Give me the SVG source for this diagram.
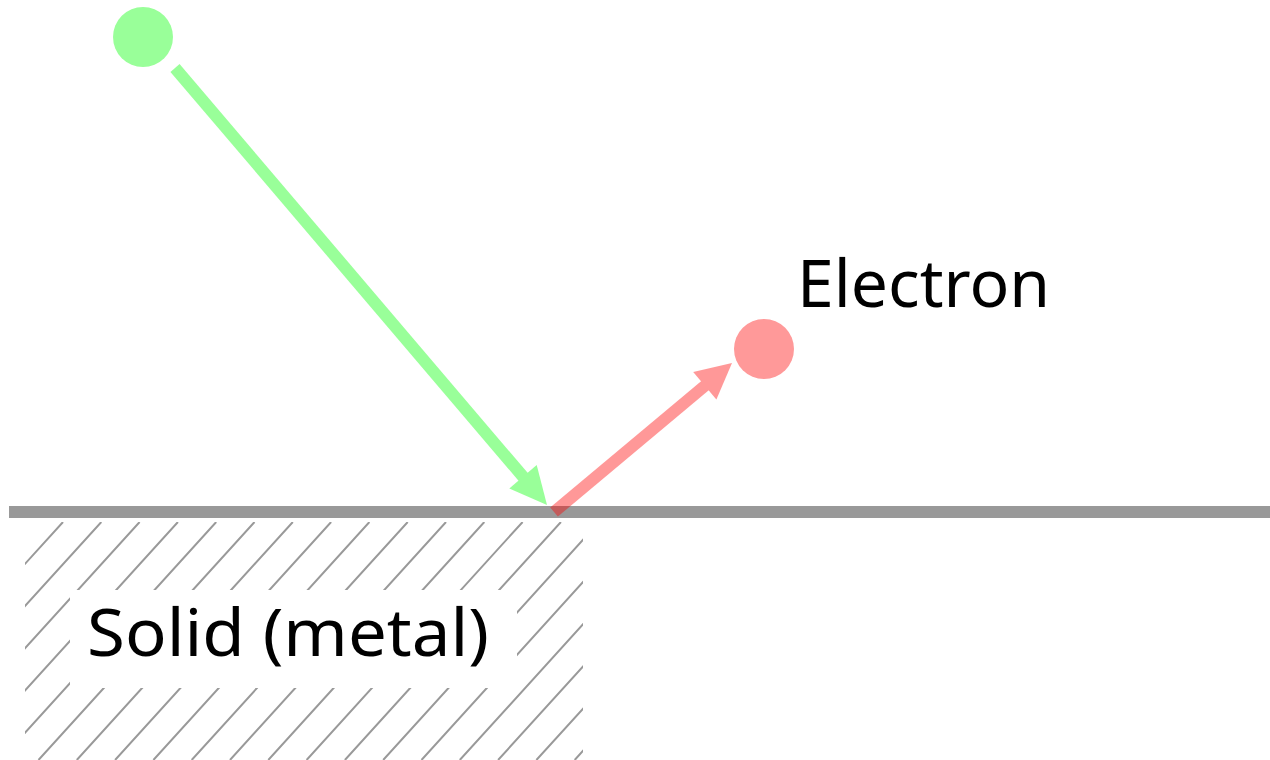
<svg xmlns="http://www.w3.org/2000/svg" width="1270" height="760" viewBox="0 0 1270 760">
  <style>
    .hatch { stroke: #999999; stroke-width: 2; }
    .label { font-family: "Noto Sans", "Open Sans", sans-serif; font-size: 66px; fill: #000000; }
  </style>
  <defs>
    <clipPath id="solidClip">
      <rect x="25" y="522" width="558" height="238"/>
    </clipPath>
  </defs>
  <rect width="1270" height="760" fill="#ffffff"/>

  <g id="solid">
    <g clip-path="url(#solidClip)">
      <path class="hatch" d="M63,522 l-216,238 M101.3,522 l-216,238 M139.6,522 l-216,238 M177.9,522 l-216,238 M216.2,522 l-216,238 M254.5,522 l-216,238 M292.8,522 l-216,238 M331.1,522 l-216,238 M369.4,522 l-216,238 M407.7,522 l-216,238 M446,522 l-216,238 M484.3,522 l-216,238 M522.6,522 l-216,238 M560.9,522 l-216,238 M599.2,522 l-216,238 M637.5,522 l-216,238 M675.8,522 l-216,238 M714.1,522 l-216,238 M752.4,522 l-216,238 M790.7,522 l-216,238"/>
    </g>
    <rect x="70" y="590" width="447" height="98" fill="#ffffff"/>
    <text class="label" x="87" y="656" textLength="402" lengthAdjust="spacingAndGlyphs">Solid (metal)</text>
  </g>

  <g id="surface">
    <line x1="9" y1="512" x2="1270" y2="512" stroke="#999999" stroke-width="12"/>
  </g>

  <g id="photon">
    <circle cx="143" cy="37" r="30" fill="#99ff99"/>
  </g>

  <g id="electron">
    <circle cx="764" cy="349" r="30" fill="#ff9999"/>
    <text class="label" x="797" y="307">Electron</text>
  </g>

  <g id="connectors">
    <g id="incident" fill="#99ff99">
      <line x1="175" y1="68" x2="525" y2="479" stroke="#99ff99" stroke-width="12"/>
      <polygon points="547,505 509.3,488.5 536.7,465.1"/>
    </g>
    <g id="emitted" opacity="0.4" fill="#ff0000">
      <line x1="554" y1="512" x2="707" y2="384" stroke="#ff0000" stroke-width="12"/>
      <polygon points="732,363 716.4,399.6 693.2,372"/>
    </g>
  </g>
</svg>
